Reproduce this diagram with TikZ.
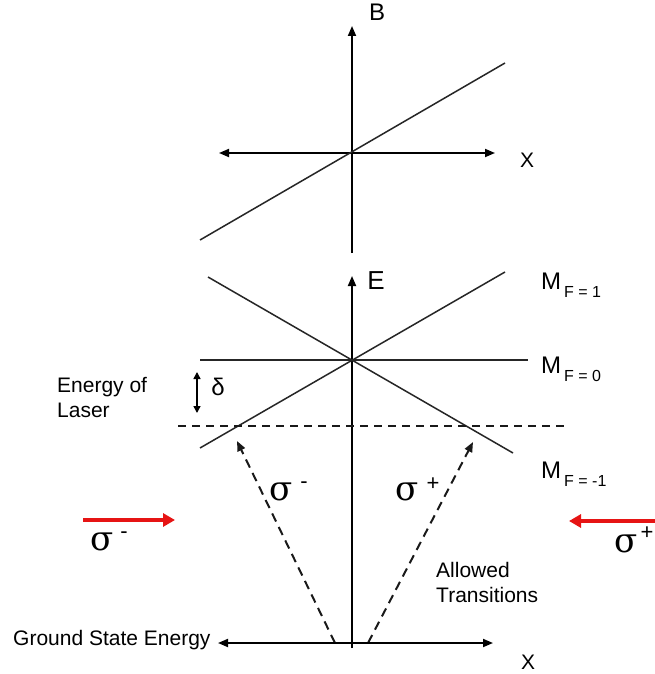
\documentclass[tikz,border=0pt]{standalone}
\usepackage{fontspec}
\setmainfont{Liberation Sans}
\newfontfamily\grk{DejaVu Serif}
\usetikzlibrary{arrows.meta}
\definecolor{laserred}{RGB}{230,20,20}
\begin{document}
\begin{tikzpicture}[x=1pt,y=-1pt,
  axis/.style={line width=1.8pt,draw=black},
  level/.style={line width=1.5pt,draw=black!85},
  dashline/.style={line width=2pt,draw=black!90,dash pattern=on 9pt off 6pt},
  tip/.style={-{Triangle[length=10pt,width=8pt]}},
  dtip/.style={{Triangle[length=10pt,width=8pt]}-{Triangle[length=10pt,width=8pt]}},
  redarrow/.style={line width=4pt,draw=laserred,-{Triangle[length=12pt,width=13pt]}},
  lbl/.style={inner sep=0pt,font=\fontsize{21}{25}\selectfont},
  big/.style={inner sep=0pt,font=\fontsize{24}{26}\selectfont},
  sig/.style={inner sep=0pt,font=\grk\fontsize{34}{34}\selectfont},
  supl/.style={inner sep=0pt,font=\fontsize{22}{22}\selectfont},
  sub/.style={inner sep=0pt,font=\fontsize{16}{16}\selectfont}]
\path[use as bounding box,fill=white] (0,0) rectangle (655,674);

% ---------- top graph (B vs x) ----------
\coordinate (Bbot) at (352,253);
\coordinate (Btop) at (352,26);
\coordinate (Xl) at (219,153);
\coordinate (Xr) at (495,153);
\coordinate (Bs1) at (200,240);
\coordinate (Bs2) at (505,63);
\draw[axis,tip] (Bbot) -- (Btop);
\draw[axis,dtip] (Xl) -- (Xr);
\draw[level] (Bs1) -- (Bs2);
\node[big] (Blab) at (377,12) {B};
\node[lbl] (Xtop) at (527,160) {X};

% ---------- bottom graph (E vs x) ----------
\coordinate (Ebot) at (352,648);
\coordinate (Etop) at (352,276);
\draw[axis,tip] (Ebot) -- (Etop);
\node[big,font=\fontsize{26}{26}\selectfont] (Elab) at (376,281) {E};

\coordinate (M0l) at (200,360);
\coordinate (M0r) at (528,360);
\coordinate (M1l) at (200,448);
\coordinate (M1r) at (505,272);
\coordinate (Mml) at (208,277);
\coordinate (Mmr) at (513,453);
\draw[level] (M0l) -- (M0r);
\draw[level] (M1l) -- (M1r);
\draw[level] (Mml) -- (Mmr);

\node[big,anchor=base west] (MF1) at (541,289) {M};
\node[sub,anchor=base west] (MF1s) at (564,297) {F = 1};
\node[big,anchor=base west] (MF0) at (541,373) {M};
\node[sub,anchor=base west] (MF0s) at (564,381) {F = 0};
\node[big,anchor=base west] (MFm) at (541,478) {M};
\node[sub,anchor=base west] (MFms) at (564,486) {F = -1};

% delta
\coordinate (dTop) at (197,372);
\coordinate (dBot) at (197,413);
\draw[line width=1.5pt,{Triangle[length=7pt,width=7pt]}-{Triangle[length=7pt,width=7pt]}] (dTop) -- (dBot);
\node[inner sep=0pt,font=\fontsize{24}{24}\selectfont] (delta) at (218,387) {δ};

% laser energy
\coordinate (Ll) at (178,426);
\coordinate (Lr) at (568,426);
\draw[dashline,dash pattern=on 8pt off 6pt] (Ll) -- (Lr);
\node[lbl,anchor=base west,align=left] (Elas) at (57,417) {Energy of\\Laser};

% allowed transitions
\coordinate (Tl0) at (335,643);
\coordinate (Tl1) at (237,441);
\coordinate (Tr0) at (368,643);
\coordinate (Tr1) at (473,442);
\draw[dashline,tip] (Tl0) -- (Tl1);
\draw[dashline,tip] (Tr0) -- (Tr1);
\node[sig] (sm) at (281,492) {σ};
\node[supl] (smm) at (304,485) {-};
\node[sig] (sp) at (407,492) {σ};
\node[supl] (spp) at (433,484) {+};

% ground state
\coordinate (Gl) at (218,643);
\coordinate (Gr) at (493,643);
\draw[axis,dtip] (Gl) -- (Gr);
\node[lbl,anchor=base west] (Gs) at (13,645) {Ground State Energy};
\node[lbl,anchor=base west,align=left] (Al) at (436,602) {Allowed\\Transitions};
\node[lbl] (Xbot) at (528,662) {X};

% laser beams
\coordinate (Rl0) at (83,520);
\coordinate (Rl1) at (175,520);
\coordinate (Rr0) at (656,521);
\coordinate (Rr1) at (569,521);
\draw[redarrow] (Rl0) -- (Rl1);
\draw[redarrow] (Rr0) -- (Rr1);
\node[sig] (osm) at (102,542) {σ};
\node[supl] (osmm) at (124,535) {-};
\node[sig] (osp) at (626,544) {σ};
\node[supl] (ospp) at (647,533) {+};
\end{tikzpicture}
\end{document}
